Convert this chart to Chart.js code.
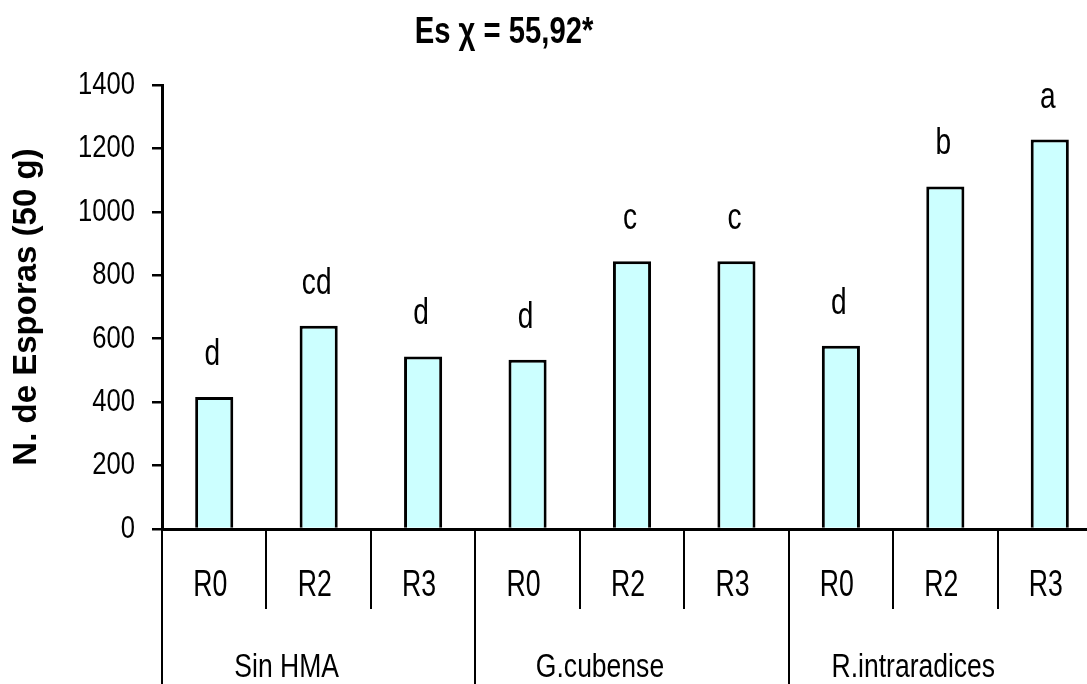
<!DOCTYPE html>
<html>
<head>
<meta charset="utf-8">
<script src="https://cdn.jsdelivr.net/npm/chart.js@4/dist/chart.umd.min.js"></script>
<style>
  html, body { margin: 0; padding: 0; background: #ffffff; overflow: hidden; }
  #wrap { position: absolute; left: 0; top: 0; }
</style>
</head>
<body>
<div id="wrap"><canvas id="c" width="1104" height="684"></canvas></div>
<script>
// ---- data ----
const treatments = ['R0', 'R2', 'R3', 'R0', 'R2', 'R3', 'R0', 'R2', 'R3'];
const groups = ['Sin HMA', 'G.cubense', 'R.intraradices'];
const groupSize = 3;
const esporas = [416, 641, 544, 534, 844, 844, 578, 1080, 1228];
const letters = ['d', 'cd', 'd', 'd', 'c', 'c', 'd', 'b', 'a'];
const yTicks = [0, 200, 400, 600, 800, 1000, 1200, 1400];
const titleText = 'Es \u03C7 = 55,92*';
const yTitleText = 'N. de Esporas (50 g)';

const FAM = '"Liberation Sans", Arial, sans-serif';
const SQ = 0.78;            // horizontal squeeze of the original lettering
const CANVAS_H = 684;
const PLOT_LEFT = 162;
const PLOT_BOTTOM = 529;

function squished(ctx, text, x, y, font, align, baseline, sx) {
  ctx.save();
  ctx.font = font;
  ctx.textAlign = align;
  ctx.textBaseline = baseline;
  ctx.fillStyle = '#000';
  ctx.translate(x, y);
  ctx.scale(sx, 1);
  ctx.fillText(text, 0, 0);
  ctx.restore();
}

// ---- plugin: labels and group dividers, placed through the chart's scales ----
const decor = {
  id: 'decor',
  afterDraw(chart) {
    const ctx = chart.ctx;
    const xs = chart.scales.x;
    const ys = chart.scales.y;
    const area = chart.chartArea;
    const step = xs.getPixelForValue(1) - xs.getPixelForValue(0);
    ctx.save();
    // group dividers
    ctx.strokeStyle = '#000';
    ctx.lineWidth = 2;
    for (let g = 0; g <= groups.length; g++) {
      const x = Math.round(xs.getPixelForValue(g * groupSize) - step / 2);
      ctx.beginPath();
      ctx.moveTo(x, area.bottom);
      ctx.lineTo(x, CANVAS_H);
      ctx.stroke();
    }
    ctx.restore();

    // y tick labels
    ys.ticks.forEach(t => {
      squished(ctx, String(t.value), ys.right - 27, ys.getPixelForValue(t.value),
               '32px ' + FAM, 'right', 'middle', 0.8);
    });
    // x tick labels (treatments)
    treatments.forEach((lab, i) => {
      squished(ctx, lab, xs.getPixelForValue(i) - 4, 596, '36px ' + FAM, 'center', 'alphabetic', 0.74);
    });
    // group labels
    groups.forEach((g, i) => {
      const xl = xs.getPixelForValue(i * groupSize) - step / 2;
      const xr = xs.getPixelForValue(i * groupSize + groupSize - 1) + step / 2;
      squished(ctx, g, (xl + xr) / 2 - 32, 677, '34px ' + FAM, 'center', 'alphabetic', SQ);
    });
    // letters above bars
    const meta = chart.getDatasetMeta(0);
    meta.data.forEach((bar, i) => {
      squished(ctx, letters[i], bar.x - 2, bar.y - 32, '36px ' + FAM, 'center', 'alphabetic', SQ);
    });
    // title
    squished(ctx, titleText, 504, 43, 'bold 37px ' + FAM, 'center', 'alphabetic', 0.79);
  }
};

new Chart(document.getElementById('c'), {
  type: 'bar',
  data: {
    labels: treatments,
    datasets: [{
      data: esporas,
      backgroundColor: '#CCFFFF',
      borderColor: '#000000',
      borderWidth: 3,
      borderSkipped: 'bottom',
      barPercentage: 0.365,
      categoryPercentage: 1.0
    }]
  },
  options: {
    responsive: false,
    devicePixelRatio: 1,
    animation: false,
    layout: { padding: { top: 85, right: 2, left: 0, bottom: 0 } },
    plugins: {
      legend: { display: false },
      tooltip: { enabled: false },
      title: { display: false }
    },
    scales: {
      x: {
        offset: true,
        grid: {
          display: true,
          offset: true,
          drawOnChartArea: false,
          drawTicks: true,
          tickLength: 80,
          color: '#000',
          lineWidth: 2
        },
        border: { display: true, color: '#000', width: 3 },
        ticks: { display: false, autoSkip: false },
        afterFit(scale) { scale.height = CANVAS_H - PLOT_BOTTOM; }
      },
      y: {
        min: 0,
        max: 1400,
        afterBuildTicks(scale) { scale.ticks = yTicks.map(v => ({ value: v })); },
        grid: {
          display: true,
          drawOnChartArea: false,
          drawTicks: true,
          tickLength: 10,
          color: '#000',
          lineWidth: 2.5
        },
        border: { display: true, color: '#000', width: 3 },
        ticks: { display: false },
        title: {
          display: true,
          text: yTitleText,
          color: '#000',
          font: { family: FAM, size: 33, weight: 'bold' },
          padding: { top: 7, bottom: 0 }
        },
        afterFit(scale) { scale.width = PLOT_LEFT; }
      }
    }
  },
  plugins: [decor]
});
</script>
</body>
</html>
